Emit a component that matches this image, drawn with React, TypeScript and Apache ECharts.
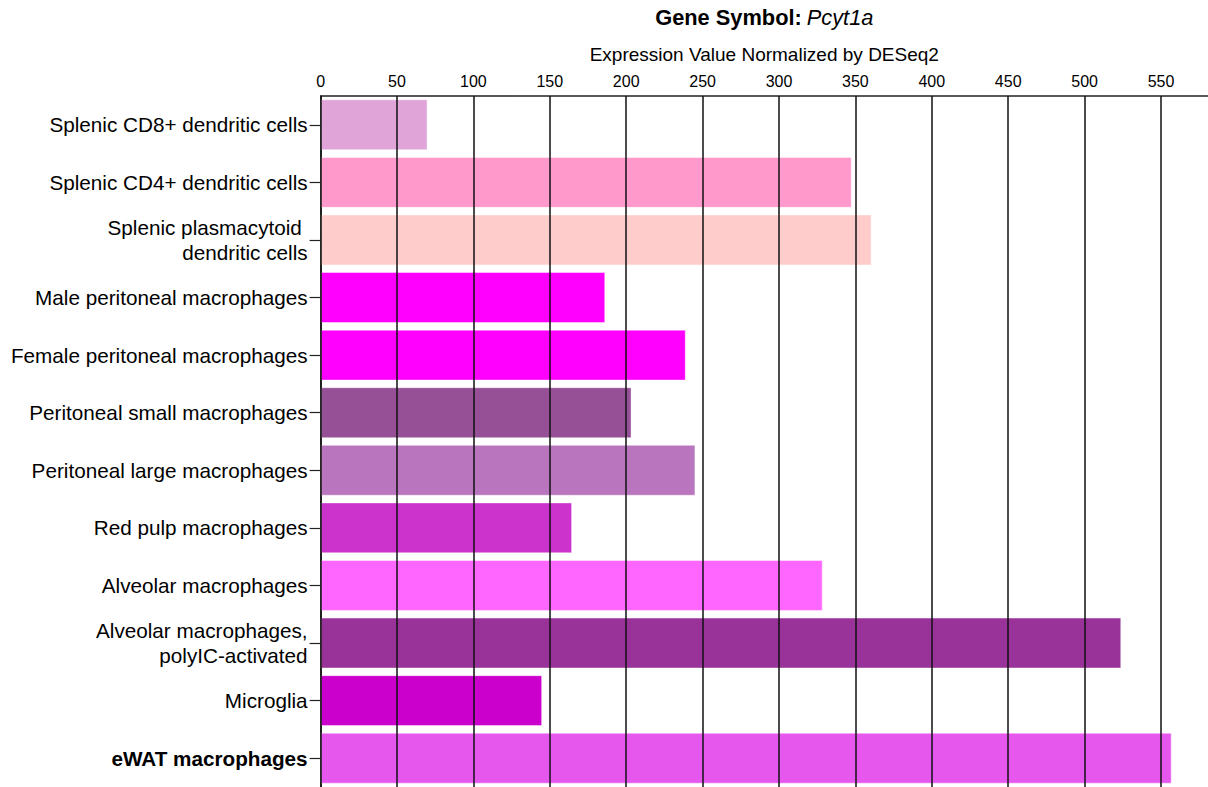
import React, { useEffect, useRef } from "react";
import * as echarts from "echarts";

const categories = [
  "Splenic CD8+ dendritic cells",
  "Splenic CD4+ dendritic cells",
  "Splenic plasmacytoid\u00a0\ndendritic cells",
  "Male peritoneal macrophages",
  "Female peritoneal macrophages",
  "Peritoneal small macrophages",
  "Peritoneal large macrophages",
  "Red pulp macrophages",
  "Alveolar macrophages",
  "Alveolar macrophages,\npolyIC-activated",
  "Microglia",
  "eWAT macrophages",
];
const values = [70, 347.6, 360.6, 186.3, 239, 203.5, 245.3, 164.6, 328.6, 524, 145, 557];
const barColors = [
  "#E0A4D8", "#FF99CC", "#FFCCCC", "#FF00FF", "#FF00FF", "#955096",
  "#B975BD", "#CC33CC", "#FF66FF", "#993399", "#CC00CC", "#E657EE",
];
const tickValues = [0, 50, 100, 150, 200, 250, 300, 350, 400, 450, 500, 550];
const titleBold = "Gene Symbol:";
const titleItalic = "Pcyt1a";
const subtitle = "Expression Value Normalized by DESeq2";
const boldCategory = "eWAT macrophages";

const FONT = "'Liberation Sans', Arial, Helvetica, sans-serif";

export default function App() {
  const ref = useRef<HTMLDivElement>(null);
  useEffect(() => {
    if (!ref.current) return;
    const chart = echarts.init(ref.current, null, { renderer: "svg" });
    const left = 320.6;
    const width = 1208 - left;
    const pxPerUnit = 1.528;
    const max = width / pxPerUnit;
    chart.setOption({
      animation: false,
      backgroundColor: "#fff",
      textStyle: { fontFamily: FONT },
      title: [
        {
          text: `{b|${titleBold}} {i|${titleItalic}}`,
          left: left + width / 2,
          textAlign: "center",
          top: 6,
          padding: 0,
          textStyle: {
            rich: {
              b: { fontSize: 21.8, fontWeight: "bold", color: "#000", fontFamily: FONT },
              i: { fontSize: 21.8, fontStyle: "italic", fontWeight: "normal", color: "#000", fontFamily: FONT },
            },
          },
        },
        {
          text: subtitle,
          left: left + width / 2,
          textAlign: "center",
          top: 45,
          padding: 0,
          textStyle: { fontSize: 19, fontWeight: "normal", color: "#000", fontFamily: FONT },
        },
      ],
      grid: { left, top: 96, width, height: 57.7 * 12, containLabel: false },
      xAxis: {
        type: "value",
        position: "top",
        min: 0,
        max,
        interval: 50,
        axisLine: { show: true, lineStyle: { color: "#222", width: 1.5 } },
        axisTick: { show: false },
        splitLine: { show: false },
        axisLabel: {
          fontSize: 16,
          color: "#000",
          margin: 7,
          fontFamily: FONT,
          showMaxLabel: false,
        },
      },
      yAxis: {
        type: "category",
        inverse: true,
        data: categories,
        axisLine: { show: true, lineStyle: { color: "#111", width: 1.5 } },
        axisTick: { show: true, alignWithLabel: true, length: 11, lineStyle: { color: "#222", width: 1.2 } },
        axisLabel: {
          fontSize: 20.7,
          lineHeight: 25,
          color: "#000",
          margin: 13,
          fontFamily: FONT,
          formatter: (v: string) => (v === boldCategory ? `{b|${v}}` : v),
          rich: { b: { fontWeight: "bold", fontSize: 20.7, color: "#000", fontFamily: FONT } },
        },
      },
      series: [
        {
          type: "bar",
          data: values.map((v, i) => ({ value: v, itemStyle: { color: barColors[i] } })),
          barCategoryGap: "11.5%",
          itemStyle: { borderColor: "rgba(255,255,255,0.45)", borderWidth: 1 },
          markLine: {
            silent: true,
            symbol: "none",
            label: { show: false },
            lineStyle: { color: "#111", width: 1.5, type: "solid" },
            data: tickValues.map((t) => ({ xAxis: t })),
          },
          z: 2,
        },
      ],
    });
    return () => chart.dispose();
  }, []);
  return (
    <div
      ref={ref}
      style={{ position: "absolute", left: 0, top: 0, width: 1208, height: 787 }}
    />
  );
}
